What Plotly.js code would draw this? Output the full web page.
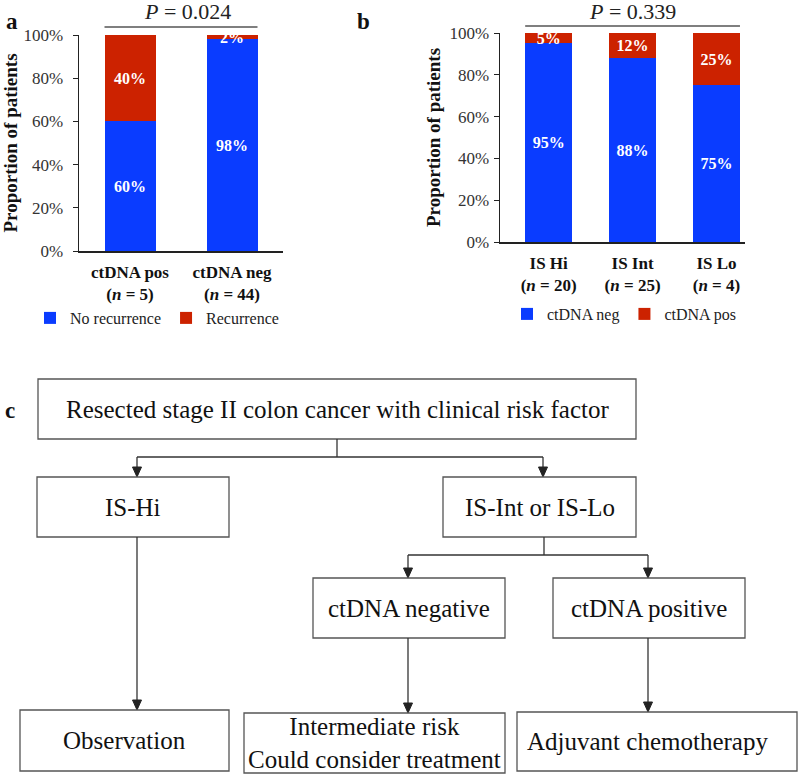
<!DOCTYPE html>
<html>
<head>
<meta charset="utf-8">
<script src="https://cdn.plot.ly/plotly-3.0.1.min.js"></script>
<style>html,body{margin:0;padding:0;background:#fff;}#chart{width:800px;height:776px;}</style>
</head>
<body>
<div id="chart"></div>
<script>
// ---- Data ----
const catsA = ['ctDNA pos', 'ctDNA neg'];
const nA = [5, 44];
const noRecurrence = [0.60, 0.98];
const recurrence = [0.40, 0.02];
const pValueA = '0.024';

const catsB = ['IS Hi', 'IS Int', 'IS Lo'];
const nB = [20, 25, 4];
const ctdnaNeg = [0.95, 0.88, 0.75];
const ctdnaPos = [0.05, 0.12, 0.25];
const pValueB = '0.339';

const yTickVals = [0, 0.2, 0.4, 0.6, 0.8, 1.0];

const flowTop = 'Resected stage II colon cancer with clinical risk factor';
const flowLevel2 = ['IS-Hi', 'IS-Int or IS-Lo'];
const flowLevel3 = ['ctDNA negative', 'ctDNA positive'];
const flowLevel4 = ['Observation', 'Intermediate risk<br>Could consider treatment', 'Adjuvant chemotherapy'];

// ---- Styling ----
const W = 800, H = 776;
const SERIF = 'Liberation Serif, Times New Roman, serif';
const BLUE = '#0a3cff';
const RED = '#cc2200';
const px = v => v / W;
const py = v => 1 - v / H;
const pct = v => Math.round(v * 100) + '%';
const tickText = (cats, ns) => cats.map((c, i) => `<b>${c}</b><br><b>(<i>n</i> = ${ns[i]})</b>`);

const barText = {family: SERIF, size: 16, color: '#ffffff', weight: 'bold'};

const traces = [
  {type: 'bar', name: 'No recurrence', x: catsA, y: noRecurrence, xaxis: 'x', yaxis: 'y',
   marker: {color: BLUE}, width: 0.5, text: noRecurrence.map(pct), textposition: 'inside',
   insidetextanchor: 'middle', constraintext: 'none', textfont: barText, legend: 'legend', hoverinfo: 'skip'},
  {type: 'bar', name: 'Recurrence', x: catsA, y: recurrence, xaxis: 'x', yaxis: 'y',
   marker: {color: RED}, width: 0.5, text: recurrence.map(pct), textposition: 'inside',
   insidetextanchor: 'middle', constraintext: 'none', textfont: barText, legend: 'legend', hoverinfo: 'skip'},
  {type: 'bar', name: 'ctDNA neg', x: catsB, y: ctdnaNeg, xaxis: 'x2', yaxis: 'y2',
   marker: {color: BLUE}, width: 0.56, text: ctdnaNeg.map(pct), textposition: 'inside',
   insidetextanchor: 'middle', constraintext: 'none', textfont: barText, legend: 'legend2', hoverinfo: 'skip'},
  {type: 'bar', name: 'ctDNA pos', x: catsB, y: ctdnaPos, xaxis: 'x2', yaxis: 'y2',
   marker: {color: RED}, width: 0.56, text: ctdnaPos.map(pct), textposition: 'inside',
   insidetextanchor: 'middle', constraintext: 'none', textfont: barText, legend: 'legend2', hoverinfo: 'skip'}
];

const yAxisCommon = {
  range: [0, 1], tickvals: yTickVals, tickformat: '.0%', showgrid: false, zeroline: false,
  showline: true, linecolor: '#222', linewidth: 1.5, ticks: 'outside', ticklen: 5, tickcolor: '#222',
  tickfont: {family: SERIF, size: 17, color: '#333'}, automargin: false, fixedrange: true
};
const yTitle = (standoff) => ({text: '<b>Proportion of patients</b>', standoff: standoff,
  font: {family: SERIF, size: 19, color: '#111'}});
const xAxisCommon = {
  type: 'category', showgrid: false, zeroline: false, showline: true, linecolor: '#222', linewidth: 1.5,
  ticks: '', tickfont: {family: SERIF, size: 17, color: '#111'}, automargin: false, fixedrange: true,
  ticklabelstandoff: 5
};

const layout = {
  width: W, height: H, margin: {l: 0, r: 0, t: 0, b: 0},
  paper_bgcolor: '#fff', plot_bgcolor: '#fff', barmode: 'stack', showlegend: true,
  xaxis: Object.assign({}, xAxisCommon, {domain: [px(79), px(283)], range: [-0.5, 1.5], anchor: 'y',
    tickvals: catsA, ticktext: tickText(catsA, nA)}),
  yaxis: Object.assign({}, yAxisCommon, {domain: [py(251), py(35)], anchor: 'x', ticklabelstandoff: 6,
    title: yTitle(3)}),
  xaxis2: Object.assign({}, xAxisCommon, {domain: [px(500), px(745)], range: [-0.58, 2.34], anchor: 'y2',
    tickvals: catsB, ticktext: tickText(catsB, nB)}),
  yaxis2: Object.assign({}, yAxisCommon, {domain: [py(242), py(33)], anchor: 'x2', ticklabelstandoff: 1,
    title: yTitle(4)}),
  legend: {orientation: 'h', x: px(30), y: py(301), xanchor: 'left', yanchor: 'top',
    font: {family: SERIF, size: 16, color: '#222'}, itemwidth: 30, bgcolor: 'rgba(0,0,0,0)', traceorder: 'normal'},
  legend2: {orientation: 'h', x: px(507), y: py(297), xanchor: 'left', yanchor: 'top',
    font: {family: SERIF, size: 16, color: '#222'}, itemwidth: 30, bgcolor: 'rgba(0,0,0,0)', traceorder: 'normal'},
  shapes: [],
  annotations: []
};

const ann = (x, y, text, font, extra) => Object.assign({xref: 'paper', yref: 'paper', x: px(x), y: py(y),
  xanchor: 'center', yanchor: 'middle', text: text, showarrow: false, font: font}, extra || {});

// P-value brackets
layout.shapes.push({type: 'line', xref: 'x', yref: 'paper', x0: -0.25, x1: 1.25, y0: py(27), y1: py(27),
  line: {color: '#555', width: 1.5}});
layout.shapes.push({type: 'line', xref: 'x2', yref: 'paper', x0: -0.28, x1: 2.28, y0: py(26), y1: py(26),
  line: {color: '#555', width: 1.5}});
layout.annotations.push(ann(187, 12, '<i>P</i> = ' + pValueA, {family: SERIF, size: 22, color: '#222'}));
layout.annotations.push(ann(632, 12, '<i>P</i> = ' + pValueB, {family: SERIF, size: 22, color: '#222'}));

// Panel letters
[['a', 12, 21], ['b', 363, 21], ['c', 10, 410]].forEach(([t, x, y]) => {
  layout.annotations.push(ann(x, y, '<b>' + t + '</b>', {family: SERIF, size: 23, color: '#111'}));
});

// Flowchart helpers (pixel layout -> paper coords)
function box(x0, y0, x1, y1, text, tx) {
  layout.shapes.push({type: 'rect', xref: 'paper', yref: 'paper', x0: px(x0), x1: px(x1), y0: py(y1), y1: py(y0),
    line: {color: '#555', width: 1.3}, fillcolor: 'rgba(0,0,0,0)'});
  layout.annotations.push(ann(tx !== undefined ? tx : (x0 + x1) / 2, (y0 + y1) / 2, text,
    {family: SERIF, size: 25, color: '#111'}, {align: 'center'}));
}
function line(x0, y0, x1, y1) {
  layout.shapes.push({type: 'line', xref: 'paper', yref: 'paper', x0: px(x0), x1: px(x1), y0: py(y0), y1: py(y1),
    line: {color: '#333', width: 1.3}});
}
function arrowDown(x, y0, y1) {
  line(x, y0, x, y1 - 8);
  layout.shapes.push({type: 'path', xref: 'paper', yref: 'paper',
    path: `M ${px(x - 4.5)} ${py(y1 - 10)} L ${px(x + 4.5)} ${py(y1 - 10)} L ${px(x)} ${py(y1)} Z`,
    fillcolor: '#222', line: {color: '#222', width: 1}});
}

box(38, 379, 636, 439, flowTop);
line(337, 439, 337, 457);
line(137, 457, 543, 457);
arrowDown(137, 457, 477);
arrowDown(543, 457, 477);
box(37, 477, 229, 537, flowLevel2[0]);
box(443, 477, 636, 537, flowLevel2[1]);
line(544, 537, 544, 555);
line(408, 555, 648, 555);
arrowDown(408, 555, 578);
arrowDown(648, 555, 578);
box(313, 578, 505, 638, flowLevel3[0]);
box(553, 578, 745, 638, flowLevel3[1]);
arrowDown(137, 537, 710);
arrowDown(408, 638, 713);
arrowDown(648, 638, 712);
box(20, 710, 229, 771, flowLevel4[0]);
box(244, 713, 505, 773, flowLevel4[1]);
box(517, 712, 797, 771, flowLevel4[2], 647);

Plotly.newPlot('chart', traces, layout, {displayModeBar: false, staticPlot: true});
</script>
</body>
</html>
